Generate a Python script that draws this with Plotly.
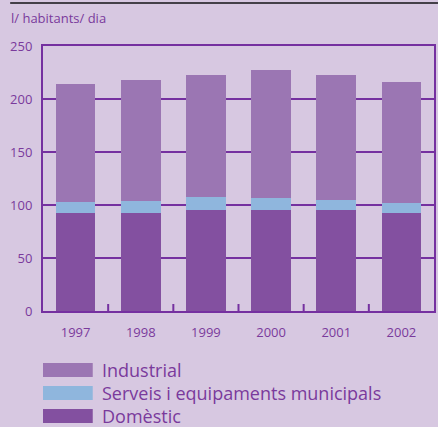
import plotly.graph_objects as go

years = ["1997", "1998", "1999", "2000", "2001", "2002"]
domestic = [92, 92, 95, 95, 95, 92]
serveis = [10.5, 11.5, 12.5, 11.5, 9.5, 9.5]
industrial = [111.7, 114.5, 115.2, 120.9, 118.2, 114.6]
series_names = ["Industrial", "Serveis i equipaments municipals", "Domèstic"]
y_ticks = [0, 50, 100, 150, 200, 250]

W, H = 438, 427
ML, MR, MT, MB = 43, 2, 46, 116
PW, PH = W - ML - MR, H - MT - MB

TEXT = "#7a3a9c"
AXIS = "#7530a0"
BG = "#d7c8e1"
C_IND = "#9b76b3"
C_SER = "#8fb6dd"
C_DOM = "#8350a0"

def px_x(x):
    return (x - ML) / PW

def px_y(y):
    return (H - MB - y) / PH

fig = go.Figure()
fig.add_bar(x=years, y=domestic, marker_color=C_DOM, name=series_names[2], showlegend=False)
fig.add_bar(x=years, y=serveis, marker_color=C_SER, name=series_names[1], showlegend=False)
fig.add_bar(x=years, y=industrial, marker_color=C_IND, name=series_names[0], showlegend=False)
fig.update_traces(marker_line_width=0)

fig.update_layout(
    width=W, height=H,
    margin=dict(l=ML, r=MR, t=MT, b=MB, pad=0),
    paper_bgcolor=BG, plot_bgcolor=BG,
    barmode="stack", bargap=0.39,
    font=dict(family="Open Sans, Noto Sans, sans-serif", color=TEXT, size=13),
    showlegend=False,
)
fig.update_xaxes(
    showline=True, linecolor=AXIS, linewidth=2, mirror=True,
    ticks="", tickfont=dict(size=13, color=TEXT), showgrid=False, ticklabelstandoff=8,
    layer="above traces", range=[-0.5, len(years) - 0.5],
)
fig.update_yaxes(
    range=[0, 250], tickvals=y_ticks, showline=True, linecolor=AXIS, linewidth=2, mirror=True,
    showgrid=True, gridcolor=AXIS, gridwidth=2, ticks="", ticklabelstandoff=6,
    tickfont=dict(size=13, color=TEXT), zeroline=False,
)

shapes = []
annotations = []
# category-boundary ticks pointing into the plot
for i in range(len(years) - 1):
    shapes.append(dict(type="line", xref="x", yref="paper", x0=i + 0.5, x1=i + 0.5,
                       y0=0, y1=7 / PH, line=dict(color=AXIS, width=2), layer="above"))
shapes.append(dict(type="line", xref="paper", yref="paper",
                   x0=px_x(10), x1=px_x(440), y0=px_y(3), y1=px_y(3),
                   line=dict(color="#444048", width=2)))
annotations.append(dict(text="l/ habitants/ dia", xref="paper", yref="paper",
                        x=px_x(9), y=px_y(18), xanchor="left", yanchor="middle",
                        showarrow=False, font=dict(size=13, color=TEXT)))

legend_items = [(series_names[0], C_IND, 363), (series_names[1], C_SER, 386), (series_names[2], C_DOM, 409)]
for name, col, top in legend_items:
    shapes.append(dict(type="rect", xref="paper", yref="paper",
                       x0=px_x(43), x1=px_x(93), y0=px_y(top), y1=px_y(top + 14),
                       fillcolor=col, line=dict(width=0)))
    annotations.append(dict(text=name, xref="paper", yref="paper",
                            x=px_x(100), y=px_y(top + 7), xanchor="left", yanchor="middle",
                            showarrow=False, font=dict(size=18, color=TEXT)))

fig.update_layout(shapes=shapes, annotations=annotations)
fig.write_html("out.html", config={"displayModeBar": False},
               post_script="document.body.style.margin='0';document.body.style.overflow='hidden';")
